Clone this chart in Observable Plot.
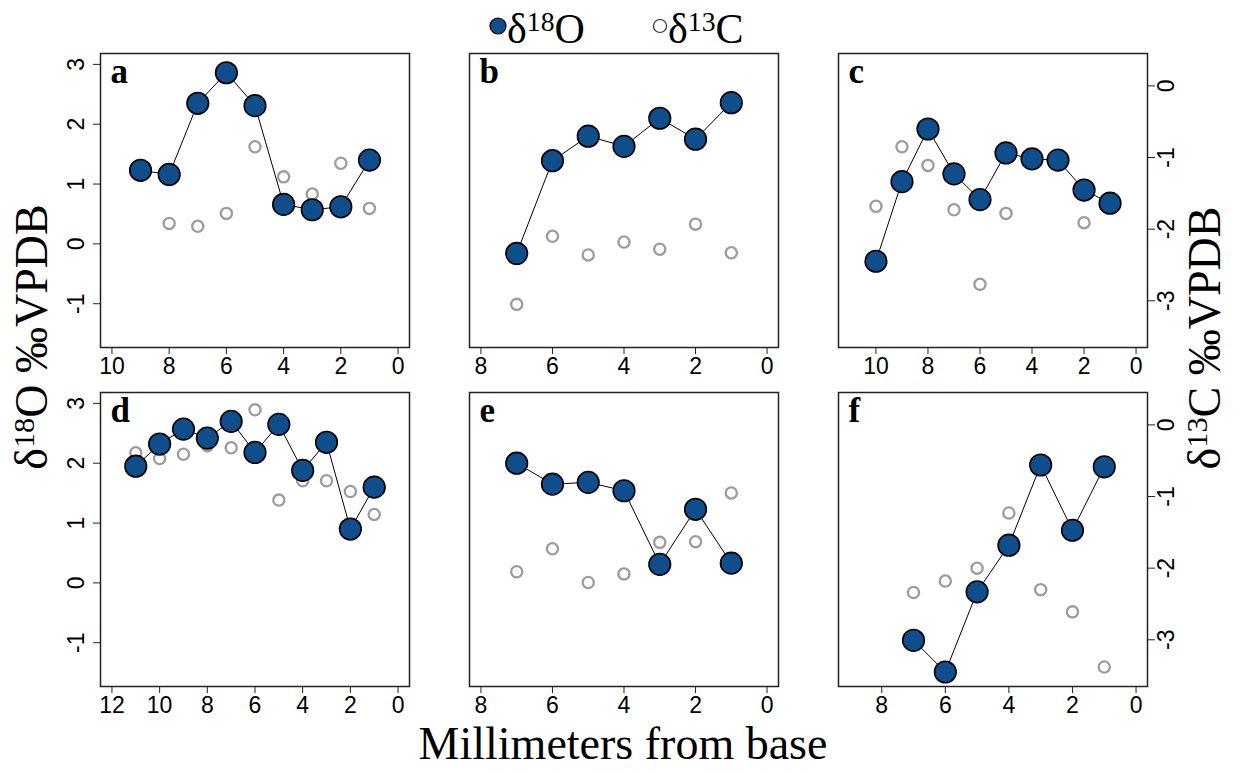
<!DOCTYPE html>
<html><head><meta charset="utf-8">
<script src="https://cdn.jsdelivr.net/npm/d3@7"></script>
<script src="https://cdn.jsdelivr.net/npm/@observablehq/plot@0.6"></script>
<style>
body{margin:0;background:#fff;}
#fig{position:relative;width:1239px;height:774px;overflow:hidden;font-family:"Liberation Serif","Times New Roman",serif;color:#000;}
.panel{position:absolute;}
.panel svg{position:absolute;left:0;top:0;}
.ttl{position:absolute;white-space:nowrap;line-height:0.75;}
sup{font-size:0.66em;vertical-align:0;position:relative;top:-0.42em;}
</style></head><body><div id="fig"></div>
<script>
// ---- data (mm from base, δ18O and δ13C in ‰ VPDB) ----
const labels = ["a","b","c","d","e","f"];
const xLimits = [10, 8, 11, 12, 8, 9];
const xTickMax = [10, 8, 10, 12, 8, 8];
const yTicksO = [-1, 0, 1, 2, 3];
const yTicksC = [-3, -2, -1, 0];
const yLimO = [-1.55, 3.0];
const yLimC = [-3.5, 0.3];

const mm_a = [9,8,7,6,5,4,3,2,1];
const o18_a = [1.23,1.16,2.35,2.86,2.31,0.66,0.57,0.62,1.40];
const mmC_a = [8,7,6,5,4,3,2,1];
const c13_a = [-1.92,-1.96,-1.78,-0.85,-1.27,-1.51,-1.08,-1.71];

const mm_b = [7,6,5,4,3,2,1];
const o18_b = [-0.16,1.39,1.80,1.63,2.10,1.75,2.36];
const mmC_b = [7,6,5,4,3,2,1];
const c13_b = [-3.05,-2.10,-2.36,-2.18,-2.28,-1.93,-2.33];

const mm_c = [10,9,8,7,6,5,4,3,2,1];
const o18_c = [-0.29,1.04,1.92,1.17,0.74,1.52,1.42,1.40,0.90,0.68];
const mmC_c = [10,9,8,7,6,5,2];
const c13_c = [-1.68,-0.85,-1.11,-1.73,-2.77,-1.78,-1.91];

const mm_d = [11,10,9,8,7,6,5,4,3,2,1];
const o18_d = [1.95,2.32,2.57,2.42,2.70,2.18,2.65,1.88,2.35,0.90,1.60];
const mmC_d = [11,10,9,8,7,6,5,4,3,2,1];
const c13_d = [-0.39,-0.47,-0.41,-0.29,-0.32,0.21,-1.05,-0.78,-0.78,-0.93,-1.25];

const mm_e = [7,6,5,4,3,2,1];
const o18_e = [2.00,1.65,1.68,1.54,0.31,1.23,0.33];
const mmC_e = [7,6,5,4,3,2,1];
const c13_e = [-2.05,-1.73,-2.20,-2.08,-1.64,-1.63,-0.95];

const mm_f = [7,6,5,4,3,2,1];
const o18_f = [-0.96,-1.49,-0.15,0.63,1.97,0.88,1.94];
const mmC_f = [7,6,5,4,3,2,1];
const c13_f = [-2.34,-2.18,-2.00,-1.23,-2.30,-2.61,-3.38];

const oxy = [[mm_a,o18_a],[mm_b,o18_b],[mm_c,o18_c],[mm_d,o18_d],[mm_e,o18_e],[mm_f,o18_f]];
const carb = [[mmC_a,c13_a],[mmC_b,c13_b],[mmC_c,c13_c],[mmC_d,c13_d],[mmC_e,c13_e],[mmC_f,c13_f]];

// ---- layout ----
const BLUE = "#104E8B";
const frameLeft = [100, 469, 838];
const frameTop = [53, 392];
const FW = 309, FH = 294;
const mL = 45, mR = 55, mT = 5, mB = 45;
const expand = ([a, b]) => { const d = (b - a) * 0.04; return [a - d, b + d]; };
const fig = document.getElementById("fig");
const sans = "'Liberation Sans', Arial, sans-serif";

labels.forEach((lab, i) => {
  const col = i % 3, row = Math.floor(i / 3);
  const W = FW + mL + mR, H = FH + mT + mB;
  const xdom = [xLimits[i] * 1.04, -xLimits[i] * 0.04];
  const common = {
    width: W, height: H, marginLeft: mL, marginRight: mR, marginTop: mT, marginBottom: mB,
    style: {background: "transparent", overflow: "visible"}
  };
  const oData = oxy[i][0].map((m, k) => ({mm: m, v: oxy[i][1][k]}));
  const cData = carb[i][0].map((m, k) => ({mm: m, v: carb[i][1][k]}));

  const pc = Plot.plot({
    ...common,
    x: {domain: xdom, axis: null},
    y: {domain: expand(yLimC), axis: null},
    marks: [
      Plot.dot(cData, {x: "mm", y: "v", r: 5.6, stroke: "#9c9c9c", strokeWidth: 2.3, fill: "none"}),
      col === 2 ? Plot.axisY(yTicksC, {anchor: "right", tickSize: 7, tickPadding: 3, tickRotate: -90,
        lineAnchor: "top", fontSize: 23, fontFamily: sans, tickFormat: d => String(d), label: null,
        stroke: "#222", fill: "#000"}) : null
    ]
  });
  const po = Plot.plot({
    ...common,
    x: {domain: xdom, axis: null},
    y: {domain: expand(yLimO), axis: null},
    marks: [
      Plot.frame({stroke: "#222", strokeWidth: 1.5}),
      Plot.axisX(d3.range(0, xTickMax[i] + 1, 2), {anchor: "bottom", tickSize: 7, tickPadding: 3,
        fontSize: 23, fontFamily: sans, tickFormat: d => String(d), label: null, stroke: "#222", fill: "#000"}),
      col === 0 ? Plot.axisY(yTicksO, {anchor: "left", tickSize: 7, tickPadding: 10, tickRotate: -90,
        lineAnchor: "bottom", fontSize: 23, fontFamily: sans, tickFormat: d => String(d), label: null,
        stroke: "#222", fill: "#000"}) : null,
      Plot.line(oData, {x: "mm", y: "v", stroke: "#000", strokeWidth: 1}),
      Plot.dot(oData, {x: "mm", y: "v", r: 10.8, fill: BLUE, stroke: "#000", strokeWidth: 1.6}),
      Plot.text([lab], {frameAnchor: "top-left", dx: 10, dy: 5, lineAnchor: "top", fontSize: 35,
        fontWeight: "bold", fontFamily: "'Liberation Serif', serif", fill: "#000"})
    ]
  });
  const div = document.createElement("div");
  div.className = "panel";
  div.style.left = (frameLeft[col] - mL) + "px";
  div.style.top = (frameTop[row] - mT) + "px";
  div.style.width = W + "px";
  div.style.height = H + "px";
  div.appendChild(pc);
  div.appendChild(po);
  fig.appendChild(div);
});

// ---- legend ----
const leg = document.createElement("div");
leg.innerHTML = `
<svg style="position:absolute;left:0;top:0" width="1239" height="60">
  <circle cx="498" cy="26" r="8" fill="${BLUE}" stroke="#000" stroke-width="1.2"/>
  <circle cx="660" cy="26" r="6.5" fill="none" stroke="#333" stroke-width="1.2"/>
</svg>
<div class="ttl" style="left:507px;top:14px;font-size:42px">δ<sup>18</sup>O</div>
<div class="ttl" style="left:668px;top:14px;font-size:42px">δ<sup>13</sup>C</div>`;
fig.appendChild(leg);

// ---- axis titles ----
function title(html, cx, cy, rot, size) {
  const d = document.createElement("div");
  d.className = "ttl";
  d.innerHTML = html;
  d.style.fontSize = size + "px";
  d.style.left = cx + "px";
  d.style.top = cy + "px";
  d.style.transform = `translate(-50%,-50%) rotate(${rot}deg)`;
  fig.appendChild(d);
}
title("δ<sup>18</sup>O ‰VPDB", 32, 337, -90, 46);
title("δ<sup>13</sup>C ‰VPDB", 1205, 338, -90, 46);
title("Millimeters from base", 623, 743.5, 0, 46);
</script></body></html>
